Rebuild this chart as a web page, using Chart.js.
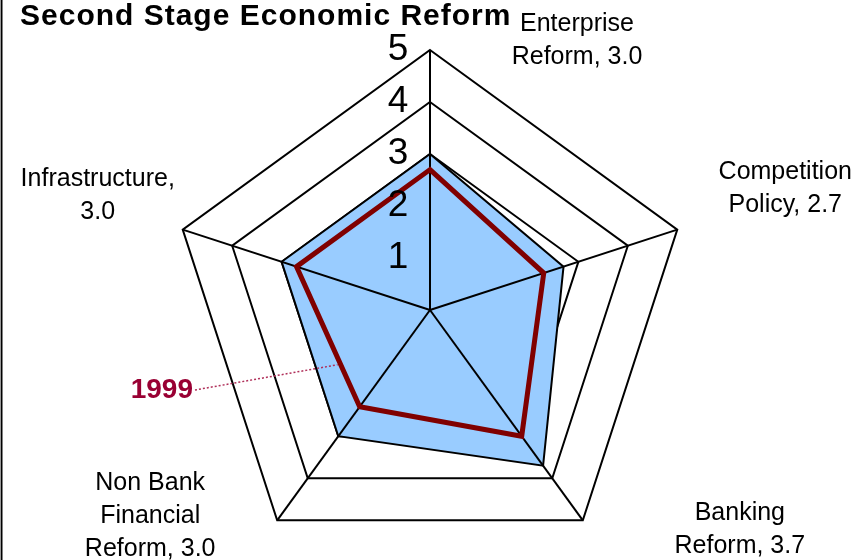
<!DOCTYPE html>
<html>
<head>
<meta charset="utf-8">
<script src="https://cdn.jsdelivr.net/npm/chart.js@4/dist/chart.umd.min.js"></script>
<style>
    html, body { margin: 0; padding: 0; overflow: hidden; background: #fff; }
    #wrap { width: 857px; height: 570px; position: relative; }
</style>
</head>
<body>
<div id="wrap"><canvas id="reformChart"></canvas></div>
<script>
const chartTitle = 'Second Stage Economic Reform';
const categories = ['Enterprise Reform', 'Competition Policy', 'Banking Reform', 'Non Bank Financial Reform', 'Infrastructure'];
const categoryLines = [['Enterprise', 'Reform'], ['Competition', 'Policy'], ['Banking', 'Reform'], ['Non Bank', 'Financial', 'Reform'], ['Infrastructure']];
const latestValues = [3.0, 2.7, 3.7, 3.0, 3.0];
const values1999 = [2.7, 2.3, 3.0, 2.3, 2.7];
const seriesLabel1999 = '1999';
const tickValues = [1, 2, 3, 4, 5];

// label text like Excel: name, value
function labelLines(i) {
    const lines = categoryLines[i].slice();
    const last = lines.pop() + ',';
    const val = latestValues[i].toFixed(1);
    if (lines.length === 0) {
        lines.push(last, val);
    } else {
        lines.push(last + ' ' + val);
    }
    return lines;
}

const FONT = '"Liberation Sans", Arial, sans-serif';

// where each category label block sits, relative to the end of its axis
const labelOffsets = [[147, -9.5], [108, -41.5], [157, 9], [-127, -4], [-85, -34]];

const radarExtras = {
    id: 'radarExtras',
    afterDatasetDraw(chart, args) {
        // angle lines go over the blue area but under the 1999 line
        if (args.index !== 1) return;
        const scale = chart.scales.r;
        const ctx = chart.ctx;
        ctx.save();
        ctx.strokeStyle = '#000';
        ctx.lineWidth = 2;
        for (let i = 0; i < categories.length; i++) {
            const p = scale.getPointPosition(i, scale.drawingArea);
            ctx.beginPath();
            ctx.moveTo(scale.xCenter, scale.yCenter);
            ctx.lineTo(p.x, p.y);
            ctx.stroke();
        }
        ctx.restore();
    },
    afterDatasetsDraw(chart) {
        const scale = chart.scales.r;
        const ctx = chart.ctx;
        ctx.save();

        // tick numbers left of the top axis
        ctx.fillStyle = '#000';
        ctx.font = '37px ' + FONT;
        ctx.textAlign = 'center';
        ctx.textBaseline = 'middle';
        scale.ticks.forEach(t => {
            if (!tickValues.includes(t.value)) return;
            const d = scale.getDistanceFromCenterForValue(t.value);
            ctx.fillText(String(t.value), scale.xCenter - 32, scale.yCenter - d);
        });

        // category labels
        ctx.font = '25px ' + FONT;
        const lh = 33;
        for (let i = 0; i < categories.length; i++) {
            const p = scale.getPointPosition(i, scale.drawingArea);
            const lines = labelLines(i);
            const cx = p.x + labelOffsets[i][0];
            const cy = p.y + labelOffsets[i][1];
            const y0 = cy - (lines.length - 1) * lh / 2;
            lines.forEach((ln, k) => ctx.fillText(ln, cx, y0 + k * lh));
        }

        // 1999 series label with dotted leader
        const meta = chart.getDatasetMeta(0);
        const a = meta.data[4], b = meta.data[3];
        const ex = a.x + (b.x - a.x) * 0.7 - 3;
        const ey = a.y + (b.y - a.y) * 0.7;
        const lx = scale.xCenter - 237;
        const ly = scale.yCenter + 80;
        ctx.strokeStyle = '#b0305a';
        ctx.lineWidth = 1.5;
        ctx.setLineDash([2, 2]);
        ctx.beginPath();
        ctx.moveTo(lx + 2, ly);
        ctx.lineTo(ex, ey);
        ctx.stroke();
        ctx.setLineDash([]);
        ctx.fillStyle = '#990033';
        ctx.font = 'bold 28px ' + FONT;
        ctx.textAlign = 'right';
        ctx.fillText(seriesLabel1999, lx, ly);

        // title
        ctx.fillStyle = '#000';
        ctx.font = 'bold 30px ' + FONT;
        ctx.textAlign = 'left';
        ctx.textBaseline = 'alphabetic';
        ctx.letterSpacing = '1px';
        ctx.fillText(chartTitle, 20, 25);
        ctx.letterSpacing = '0px';

        // left frame edge
        ctx.fillStyle = '#999';
        ctx.fillRect(0, 0, 1, chart.height);
        ctx.fillStyle = '#000';
        ctx.fillRect(1, 0, 1.5, chart.height);
        ctx.restore();
    }
};

const ctx = document.getElementById('reformChart').getContext('2d');
const reformChart = new Chart(ctx, {
    type: 'radar',
    data: {
        labels: categories,
        datasets: [
            {
                label: seriesLabel1999,
                data: values1999,
                borderColor: '#800000',
                backgroundColor: 'rgba(0,0,0,0)',
                borderWidth: 5,
                fill: false,
                pointRadius: 0,
                tension: 0
            },
            {
                label: 'Latest',
                data: latestValues,
                borderColor: '#000',
                backgroundColor: '#99CCFF',
                borderWidth: 2,
                fill: true,
                pointRadius: 0,
                tension: 0
            }
        ]
    },
    options: {
        responsive: true,
        maintainAspectRatio: false,
        animation: false,
        layout: {
            padding: { top: 50, left: 20, right: 17, bottom: 0 }
        },
        plugins: {
            legend: { display: false },
            tooltip: { enabled: false },
            title: { display: false }
        },
        scales: {
            r: {
                min: 0,
                max: 5,
                beginAtZero: true,
                ticks: {
                    stepSize: 1,
                    display: false
                },
                grid: {
                    color: '#000',
                    lineWidth: 2
                },
                angleLines: { display: false },
                pointLabels: { display: false }
            }
        }
    },
    plugins: [radarExtras]
});
</script>
</body>
</html>
